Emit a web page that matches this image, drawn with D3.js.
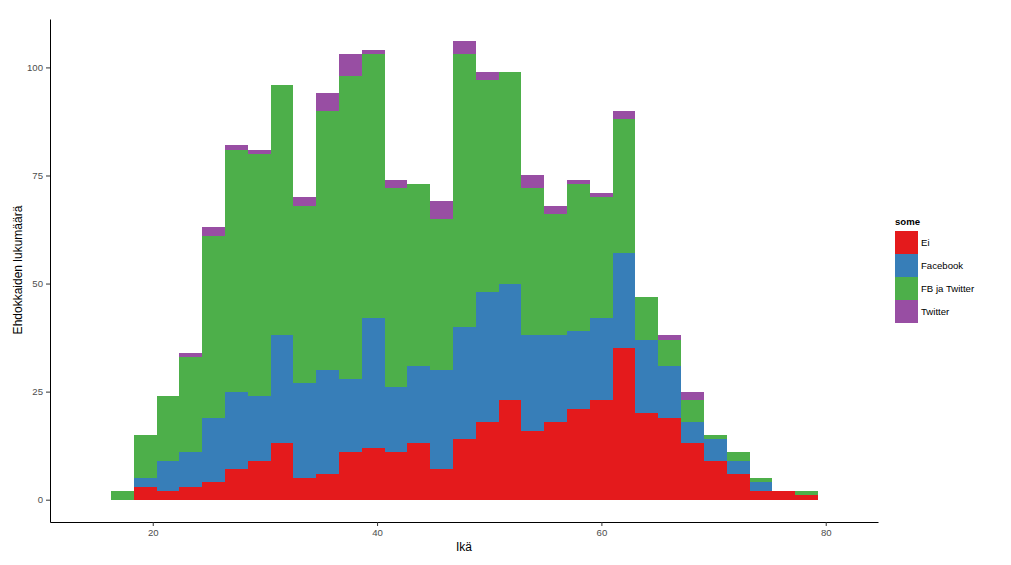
<!DOCTYPE html>
<html>
<head>
<meta charset="utf-8">
<script src="https://cdn.jsdelivr.net/npm/d3@7"></script>
<style>
  body { margin: 0; background: #fff; }
  svg { font-family: "Liberation Sans", Arial, sans-serif; }
</style>
</head>
<body>
<script>
// histogram bins (age), 31 bins
const binStart = 16.28;
const binWidth = 2.033;

const seriesNames = ["Ei", "Facebook", "FB ja Twitter", "Twitter"];
const colors = ["#E41A1C", "#377EB8", "#4DAF4A", "#984EA3"];

const ei        = [0,3,2,3,4,7,9,13,5,6,11,12,11,13,7,14,18,23,16,18,21,23,35,20,19,13,9,6,2,2,1];
const facebook  = [0,2,7,8,15,18,15,25,22,24,17,30,15,18,23,26,30,27,22,20,18,19,22,17,12,5,5,3,2,0,0];
const fbTwitter = [2,10,15,22,42,56,56,58,41,60,70,61,46,42,35,63,49,49,34,28,34,28,31,10,6,5,1,2,1,0,1];
const twitter   = [0,0,0,1,2,1,1,0,2,4,5,1,2,0,4,3,2,0,3,2,1,1,2,0,1,2,0,0,0,0,0];

const xTicks = [20, 40, 60, 80];
const yTicks = [0, 25, 50, 75, 100];

const w = 1011, h = 565;
const svg = d3.select("body").append("svg").attr("width", w).attr("height", h);

const xScale = d3.scaleLinear().domain([10.84, 84.66]).range([50, 878]);
const yScale = d3.scaleLinear().domain([-5.16, 111.2]).range([522, 19]);

const table = ei.map((d, i) => ({
  x0: binStart + i * binWidth,
  "Ei": ei[i], "Facebook": facebook[i], "FB ja Twitter": fbTwitter[i], "Twitter": twitter[i]
}));
const stacked = d3.stack().keys(seriesNames)(table);

svg.append("g")
  .selectAll("g")
  .data(stacked)
  .enter()
  .append("g")
  .attr("fill", (d, i) => colors[i])
  .selectAll("rect")
  .data(d => d)
  .enter()
  .append("rect")
  .attr("shape-rendering", "crispEdges")
  .attr("x", d => xScale(d.data.x0))
  .attr("width", d => xScale(d.data.x0 + binWidth) - xScale(d.data.x0))
  .attr("y", d => yScale(d[1]))
  .attr("height", d => yScale(d[0]) - yScale(d[1]));

const xAxis = d3.axisBottom(xScale).tickValues(xTicks).tickSize(4).tickSizeOuter(0).tickPadding(3);
const yAxis = d3.axisLeft(yScale).tickValues(yTicks).tickSize(4).tickSizeOuter(0).tickPadding(3);

const gx = svg.append("g").attr("transform", "translate(0,522)").call(xAxis);
const gy = svg.append("g").attr("transform", "translate(50,0)").call(yAxis);
[gx, gy].forEach(g => {
  g.select(".domain").attr("stroke", "#000").attr("stroke-width", 1);
  g.selectAll(".tick line").attr("stroke", "#333");
  g.selectAll(".tick text").attr("fill", "#4d4d4d").style("font-size", "9.6px");
});

svg.append("text")
  .attr("x", 464).attr("y", 551)
  .attr("text-anchor", "middle")
  .style("font-size", "12px")
  .text("Ikä");

svg.append("text")
  .attr("transform", "translate(22,270) rotate(-90)")
  .attr("text-anchor", "middle")
  .style("font-size", "12px")
  .text("Ehdokkaiden lukumäärä");

// legend
const legend = svg.append("g").attr("transform", "translate(895,231)");
legend.append("text")
  .attr("x", 0).attr("y", -6)
  .style("font-size", "9.6px").style("font-weight", "bold")
  .text("some");
const items = legend.selectAll("g.item")
  .data(seriesNames)
  .enter()
  .append("g")
  .attr("class", "item")
  .attr("transform", (d, i) => "translate(0," + (i * 23) + ")");
items.append("rect")
  .attr("width", 23).attr("height", 23)
  .attr("fill", (d, i) => colors[i]);
items.append("text")
  .attr("x", 26).attr("y", 15)
  .style("font-size", "9.6px")
  .text(d => d);
</script>
</body>
</html>
